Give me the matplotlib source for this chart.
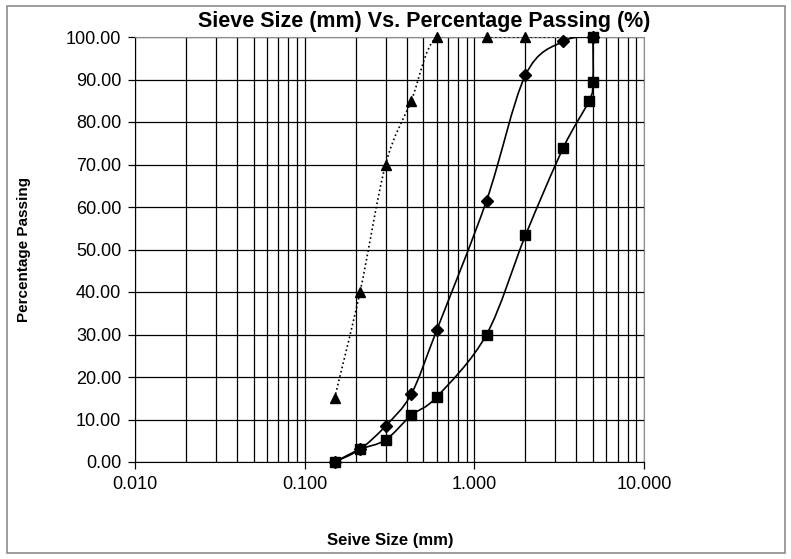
import numpy as np
import matplotlib
matplotlib.use("Agg")
import matplotlib.pyplot as plt
from matplotlib.path import Path
from matplotlib.patches import PathPatch, Rectangle
from matplotlib.ticker import FixedLocator, FormatStrFormatter, NullFormatter

# sieve data
sieve_a = [0.15, 0.212, 0.3, 0.425, 0.6, 1.18, 2.0, 5.0]
pass_a = [15, 40, 70, 85, 100, 100, 100, 100]

sieve_b = [0.15, 0.212, 0.3, 0.425, 0.6, 1.18, 2.0, 3.35, 5.0]
pass_b = [0, 3, 8.5, 16, 31, 61.5, 91, 99, 100]

sieve_c = [0.15, 0.212, 0.3, 0.425, 0.6, 1.18, 2.0, 3.35, 4.75, 5.0, 5.0]
pass_c = [0, 3, 5.2, 11, 15.3, 30, 53.3, 74, 85, 89.4, 100]

y_ticks = [0, 10, 20, 30, 40, 50, 60, 70, 80, 90, 100]
x_ticks = [0.01, 0.1, 1, 10]

plt.rcParams['font.family'] = ['Liberation Sans', 'DejaVu Sans']


def smooth_path(xs, ys):
    # excel-like smoothed line: catmull-rom bezier built in log10(x) space
    lx = np.log10(xs)
    pts = np.column_stack([lx, ys])
    n = len(pts)
    verts = [pts[0]]
    codes = [Path.MOVETO]
    for i in range(n - 1):
        p0 = pts[max(i - 1, 0)]
        p1 = pts[i]
        p2 = pts[i + 1]
        p3 = pts[min(i + 2, n - 1)]
        c1 = p1 + (p2 - p0) / 6.0
        c2 = p2 - (p3 - p1) / 6.0
        verts += [c1, c2, p2]
        codes += [Path.CURVE4] * 3
    verts = np.array(verts)
    verts[:, 0] = 10 ** verts[:, 0]
    return Path(verts, codes)


fig = plt.figure(figsize=(7.91, 5.59), dpi=100)
ax = fig.add_axes([135 / 791, 1 - 462 / 559, (644 - 135) / 791, (462 - 37) / 559])

ax.set_xscale('log')
ax.set_xlim(0.01, 10)
ax.set_ylim(0, 100)

ax.xaxis.set_major_locator(FixedLocator(x_ticks))
ax.xaxis.set_major_formatter(FormatStrFormatter('%.3f'))
ax.xaxis.set_minor_formatter(NullFormatter())
ax.set_yticks(y_ticks)
ax.yaxis.set_major_formatter(FormatStrFormatter('%.2f'))

ax.grid(True, which='both', axis='x', color='black', linewidth=0.9)
ax.grid(True, which='major', axis='y', color='black', linewidth=0.9)
ax.set_axisbelow(True)
ax.tick_params(axis='x', which='minor', length=0)
ax.tick_params(axis='both', which='major', length=5, width=0.9, labelsize=13, pad=5)

for side in ['top', 'right']:
    ax.spines[side].set_color('#8c8c8c')
for side in ['left', 'bottom']:
    ax.spines[side].set_color('black')

for xs, ys, ls, mk, ms in [(sieve_a, pass_a, ':', '^', 7.5),
                           (sieve_b, pass_b, '-', 'D', 6),
                           (sieve_c, pass_c, '-', 's', 7.5)]:
    ax.add_patch(PathPatch(smooth_path(xs, ys), facecolor='none', edgecolor='black',
                           linewidth=1.2, linestyle=ls, zorder=3))
    ax.plot(xs, ys, linestyle='none', marker=mk, markersize=ms, color='black',
            clip_on=False, zorder=4)

fig.text(424 / 791, 1 - 21 / 559, 'Sieve Size (mm) Vs. Percentage Passing (%)',
         ha='center', va='center', fontsize=15.5, fontweight='bold')
fig.text(390 / 791, 1 - 540 / 559, 'Seive Size (mm)', ha='center', va='center',
         fontsize=12, fontweight='bold')
fig.text(24 / 791, 1 - 250 / 559, 'Percentage Passing', ha='center', va='center',
         rotation=90, fontsize=11, fontweight='bold')

fig.patches.append(Rectangle((7 / 791, 6 / 559), 778 / 791, 547 / 559,
                             transform=fig.transFigure, fill=False,
                             edgecolor='#8c8c8c', linewidth=1.2))

fig.savefig('out.png', dpi=100)
